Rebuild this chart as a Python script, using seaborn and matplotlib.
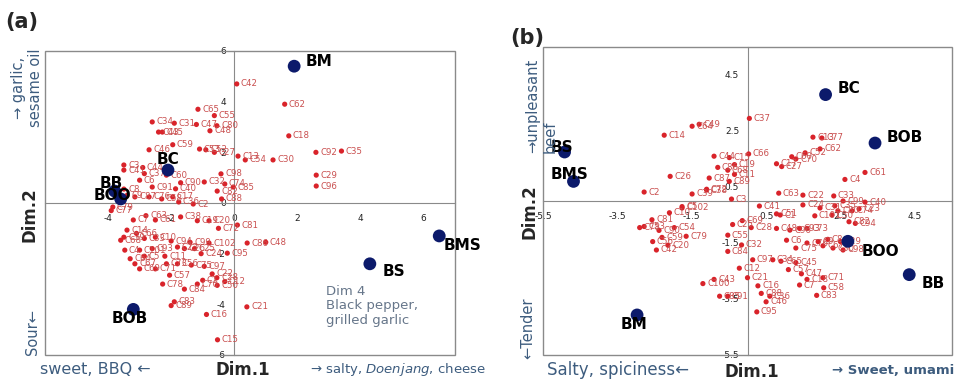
import matplotlib
matplotlib.use("Agg")
import matplotlib.pyplot as plt
import seaborn as sns
import pandas as pd
from matplotlib.patches import Rectangle

sns.set_style("white")
plt.rcParams["font.family"] = ["DejaVu Sans"]
plt.rcParams["axes.unicode_minus"] = False

# ---------------- Panel (a): consumers ----------------
cons_a_x = [0.08, 1.6, 1.73, 1.23, 0.12, 0.35, 2.59, 3.40, 2.60, 2.60, -0.42, -0.03,
            -1.15, -0.63, -1.20, -0.77, -0.55, -2.60, -1.90, -2.40, -2.28, -1.95, -2.70,
            -1.10, -0.90, -0.63, -3.50, -3.50, -2.90, -2.85, -2.15, -0.30, -0.95, -1.70,
            -1.86, -2.60, -3.00, -3.50, -3.40, -3.15, -2.70, -2.30, -1.95, -1.76, -1.30,
            -0.54, -0.40, -3.85, -3.90, -3.20, -2.80, -2.50, -1.17, -0.80, 0.10, -3.40,
            -3.10, -3.60, -3.50, -2.85, -2.50, -3.47, -3.00, -2.85, -2.20, -1.80, -1.58,
            -1.26, -0.80, 0.41, 1.00, -0.22, -3.15, -3.00, -2.50, -2.15, -1.80, -1.36,
            -0.95, -0.70, -0.30, -0.55, -2.27, -1.17, -1.00, -0.54, -1.90, -2.00, -0.88,
            0.40, -0.53, -1.58, -2.00, -1.40, -1.05, -2.60, -3.30, -0.50, -1.70, -2.05]
cons_a_y = [4.70, 3.90, 2.65, 1.70, 1.85, 1.70, 2.00, 2.05, 1.10, 0.67, 1.15, 0.63,
            3.70, 3.45, 3.10, 2.85, 3.05, 3.20, 3.15, 2.80, 2.80, 2.30, 2.10,
            2.13, 2.10, 2.00, 1.50, 1.30, 1.40, 1.16, 1.10, 0.75, 0.83, 0.80,
            0.56, 0.63, 0.90, 0.55, 0.30, 0.24, 0.24, 0.16, 0.24, 0.04, -0.04,
            0.47, 0.16, -0.16, -0.30, -0.67, -0.50, -0.67, -0.70, -0.70, -0.87, -1.07,
            -1.20, -1.47, -1.35, -1.40, -1.35, -1.86, -1.86, -2.10, -2.10, -1.74, -1.80,
            -1.80, -1.58, -1.58, -1.55, -1.98, -2.40, -2.60, -2.60, -2.40, -2.40, -2.45,
            -2.50, -2.80, -3.10, -2.95, -3.20, -3.20, -3.05, -3.25, -3.90, -4.05, -4.40,
            -4.10, -5.40, -3.40, -1.50, -1.55, -2.00, -1.80, -2.20, -1.00, -0.55, -2.85]
cons_a_lab = ["C42", "C62", "C18", "C30", "C13", "C54", "C92", "C35", "C29", "C96", "C98", "C85",
              "C65", "C55", "C47", "C48", "C80", "C34", "C31", "C43", "C45", "C59", "C46",
              "C53", "C52", "C27", "C3", "C41", "C44", "C37", "C60", "C74", "C32", "C90",
              "C40", "C91", "C6", "C8", "C9", "C87", "C76", "C58", "C17", "C36", "C2",
              "C82", "C88", "C79", "C77", "C7", "C63", "C61", "C19", "C20", "C81", "C14",
              "C66", "C68", "C39", "C33", "C10", "C4", "C101", "C5", "C11", "C23", "C26",
              "C25", "C102", "C86", "C48", "C95", "C67", "C69", "C71", "C73", "C56", "C75",
              "C97", "C22", "C12", "C28", "C78", "C70", "C1", "C50", "C83", "C89", "C16",
              "C21", "C15", "C84", "C94", "C99", "C24", "C93", "C64", "C72", "C38", "C57"]

# Panel (a): products
prod_a_names = ["BM", "BC", "BB", "BOO", "BS", "BMS", "BOB"]
prod_a_x = [1.90, -2.10, -3.79, -3.60, 4.30, 6.50, -3.20]
prod_a_y = [5.40, 1.30, 0.47, 0.16, -2.40, -1.30, -4.20]

# ---------------- Panel (b): consumers ----------------
cons_b_x = [-2.24, -1.49, -1.30, -2.08, -2.78, -1.49, -1.10, -1.03, -0.90, -0.49, -0.35,
            -0.53, -0.80, -0.35, -0.49, -1.10, -0.43, -1.76, 0.05, 0.03, 0.78, 0.92,
            1.19, 1.30, 1.76, 2.00, 1.95, 1.55, 0.84, 1.49, 1.49, 0.32, 2.62, 3.16,
            2.32, 2.57, 3.16, 1.95, 2.35, 0.78, 0.88, -0.40, -0.14, -0.53, 0.10, -0.16,
            -0.53, 0.14, -0.22, -0.90, 0.00, -0.75, -0.53, 0.25, 0.28, 0.37, 0.60, 0.50,
            0.68, 0.90, 1.10, 1.30, 1.45, 1.60, 1.40, 2.03, 1.86, 2.05, 1.05, 1.30,
            1.60, 0.78, 1.14, 1.40, 1.60, 1.90, 2.03, 2.16, 2.30, 2.50, 2.57, 2.43,
            2.27, 2.81, 3.00, 2.73, 2.90, 1.81, -2.57, -2.10, -1.76, -2.78, -2.38, -1.97,
            -1.65, -2.30, -2.14, -2.90, -2.55, -2.45, -1.20]
cons_b_y = [2.35, 2.67, 2.74, 0.88, 0.32, 0.25, 0.39, 0.82, 1.60, 1.55, 1.30,
            1.10, 1.20, 0.95, 0.70, 0.42, 0.07, -0.20, 2.95, 1.68, 1.33, 1.23,
            1.58, 1.50, 2.28, 2.25, 1.86, 1.72, 0.28, 0.21, -0.14, -0.18, 0.77, 1.02,
            0.18, 0.00, -0.04, -0.25, -0.17, -0.46, -0.50, -0.84, -0.70, -1.22, -0.95, -1.57,
            -1.80, -2.10, -2.40, -2.80, -2.74, -3.40, -3.40, -3.96, -3.03, -3.30, -3.40, -3.60,
            -2.10, -2.15, -2.45, -2.20, -2.60, -2.80, -3.00, -2.74, -3.37, -3.10, -1.40, -1.68,
            -1.50, -0.98, -1.04, -0.98, -0.98, -1.45, -1.60, -1.37, -1.68, -1.45, -1.75, -0.35,
            -0.50, -0.35, -0.28, -0.74, -0.80, -0.53, -0.67, -0.42, -0.25, -0.91, -1.05, -0.95,
            -1.26, -1.30, -1.58, -0.95, -1.45, -1.75, -2.95]
cons_b_lab = ["C14", "C64", "C49", "C26", "C2", "C39", "C38", "C87", "C44", "C15", "C19",
              "C68", "C86", "C11", "C89", "C72", "C3", "C5", "C37", "C66", "C17", "C27",
              "C60", "C70", "C13", "C77", "C62", "C52", "C63", "C22", "C24", "C41", "C4", "C61",
              "C33", "C99", "C40", "C31", "C35", "C51", "C1", "C25", "C69", "C55", "C28", "C32",
              "C84", "C97", "C12", "C43", "C21", "C85", "C91", "C95", "C16", "C88", "C36", "C46",
              "C34", "C65", "C57", "C45", "C47", "C18", "C7", "C71", "C83", "C58", "C6", "C75",
              "C76", "C48", "C96", "C93", "C73", "C9", "C67", "C8", "C30", "C29", "C98", "C80",
              "C50", "C74", "C23", "C82", "C94", "C101", "C81", "C10", "C102", "C53", "C90", "C54",
              "C79", "C59", "C20", "C78", "C56", "C42", "C100"]

# Panel (b): products
prod_b_names = ["BS", "BMS", "BC", "BOB", "BOO", "BB", "BM"]
prod_b_x = [-4.92, -4.68, 2.10, 3.43, 2.70, 4.35, -2.97]
prod_b_y = [1.75, 0.70, 3.80, 2.07, -1.44, -2.63, -4.07]

# axis ticks
ticks_a_x = [-4, -2, 0, 2, 4, 6]
ticks_a_y = [-6, -4, -2, 0, 2, 4, 6]
ticks_b = [-5.5, -3.5, -1.5, 0.5, 2.5, 4.5]

# product label placement (pixel offsets, horizontal alignment)
place_a = {"BM": (11, 5, "left"), "BC": (0, 11, "center"), "BB": (-3, 8, "center"),
           "BOO": (-8, 3, "center"), "BS": (13, -8, "left"), "BMS": (4, -10, "left"),
           "BOB": (-4, -9, "center")}
place_b = {"BS": (-3, 5, "center"), "BMS": (-4, 7, "center"), "BC": (12, 6, "left"),
           "BOB": (12, 6, "left"), "BOO": (14, -10, "left"), "BB": (12, -9, "left"),
           "BM": (-3, -10, "center")}

RED = "#d9232a"
RED_TXT = "#c94f4f"
NAVY = "#0c1a6b"
FRAME = "#8a8a8a"
BLUE_TXT = "#3d5c7e"

W, H = 959, 381
fig = plt.figure(figsize=(W / 100, H / 100), dpi=100)
ax_a = fig.add_axes([45 / W, 1 - 355 / H, 410 / W, 304 / H])
ax_b = fig.add_axes([543 / W, 1 - 355 / H, 409 / W, 308 / H])


def draw_panel(ax, cx, cy, clab, px, py, pnames, place, xlim, ylim, xt, yt, fmt, xpad, ypad):
    cons = pd.DataFrame({"x": cx, "y": cy, "label": clab})
    prods = pd.DataFrame({"x": px, "y": py, "name": pnames})
    sns.scatterplot(data=cons, x="x", y="y", ax=ax, color=RED, s=14,
                    edgecolor="none", zorder=3, legend=False)
    for _, r in cons.iterrows():
        ax.annotate(r["label"], (r["x"], r["y"]), xytext=(3, 0),
                    textcoords="offset points", fontsize=6.2, color=RED_TXT,
                    va="center", ha="left", zorder=3)
    sns.scatterplot(data=prods, x="x", y="y", ax=ax, color=NAVY, s=85,
                    edgecolor="none", zorder=5, legend=False)
    for _, r in prods.iterrows():
        dx, dy, ha = place[r["name"]]
        ax.annotate(r["name"], (r["x"], r["y"]), xytext=(dx, dy),
                    textcoords="offset pixels", fontsize=11, fontweight="bold",
                    color="black", ha=ha, va="center", zorder=6,
                    annotation_clip=False)
    ax.set_xlim(*xlim)
    ax.set_ylim(*ylim)
    ax.set_xlabel("")
    ax.set_ylabel("")
    for side in ("top", "right"):
        ax.spines[side].set_visible(False)
    for side in ("left", "bottom"):
        ax.spines[side].set_position(("data", 0))
        ax.spines[side].set_color(FRAME)
        ax.spines[side].set_linewidth(0.8)
        ax.spines[side].set_zorder(1)
    ax.add_patch(Rectangle((0, 0), 1, 1, transform=ax.transAxes, fill=False,
                           edgecolor=FRAME, linewidth=1.0, clip_on=False, zorder=1))
    ax.set_xticks(xt)
    ax.set_yticks(yt)
    ax.set_xticklabels([fmt.format(v) for v in xt])
    ax.set_yticklabels([fmt.format(v) for v in yt])
    ax.tick_params(axis="both", direction="inout", length=6, width=0.8,
                   color=FRAME, labelsize=6.5, labelcolor="#222222")
    ax.tick_params(axis="x", pad=xpad)
    ax.tick_params(axis="y", pad=ypad)


draw_panel(ax_a, cons_a_x, cons_a_y, cons_a_lab, prod_a_x, prod_a_y, prod_a_names,
           place_a, (-6, 7), (-6, 6), ticks_a_x, ticks_a_y, "{:d}", 5, 3)
draw_panel(ax_b, cons_b_x, cons_b_y, cons_b_lab, prod_b_x, prod_b_y, prod_b_names,
           place_b, (-5.5, 5.5), (-5.5, 5.5), ticks_b, ticks_b, "{:.1f}", 5, 3)


def ftext(x, y, s, **kw):
    fig.text(x / W, 1 - y / H, s, **kw)


# panel (a) annotations
ftext(22, 22, "(a)", fontsize=15, fontweight="bold", ha="center", va="center")
ftext(27, 88, "→ garlic,\nsesame oil", rotation=90, fontsize=10.5, color=BLUE_TXT,
      ha="center", va="center", multialignment="center")
ftext(29, 215, "Dim.2", rotation=90, fontsize=12, fontweight="semibold",
      ha="center", va="center")
ftext(32, 332, "Sour←", rotation=90, fontsize=10.5, color=BLUE_TXT,
      ha="center", va="center")
ftext(40, 370, "sweet, BBQ ←", fontsize=11.5, color=BLUE_TXT, ha="left", va="center")
ftext(243, 370, "Dim.1", fontsize=12, fontweight="semibold", ha="center", va="center")
ftext(310, 370, r"→ salty, $\it{Doenjang}$, cheese", fontsize=9.5, color=BLUE_TXT,
      ha="left", va="center")
ftext(326, 306, "Dim 4\nBlack pepper,\ngrilled garlic", fontsize=9.5, color="#66768a",
      ha="left", va="center", linespacing=1.15)

# panel (b) annotations
ftext(527, 38, "(b)", fontsize=15, fontweight="bold", ha="center", va="center")
ftext(541, 153, "→unpleasant\nbeef", rotation=90, fontsize=10.5, color=BLUE_TXT,
      ha="center", va="bottom", multialignment="left")
ftext(530, 212, "Dim.2", rotation=90, fontsize=12, fontweight="semibold",
      ha="center", va="center")
ftext(528, 328, "←Tender", rotation=90, fontsize=10.5, color=BLUE_TXT,
      ha="center", va="center")
ftext(547, 370, "Salty, spiciness←", fontsize=12, color=BLUE_TXT, ha="left", va="center")
ftext(752, 372, "Dim.1", fontsize=12, fontweight="semibold", ha="center", va="center")
ftext(954, 370, "→ Sweet, umami", fontsize=9.5, fontweight="semibold", color=BLUE_TXT,
      ha="right", va="center")

fig.savefig("out.png", dpi=100)
